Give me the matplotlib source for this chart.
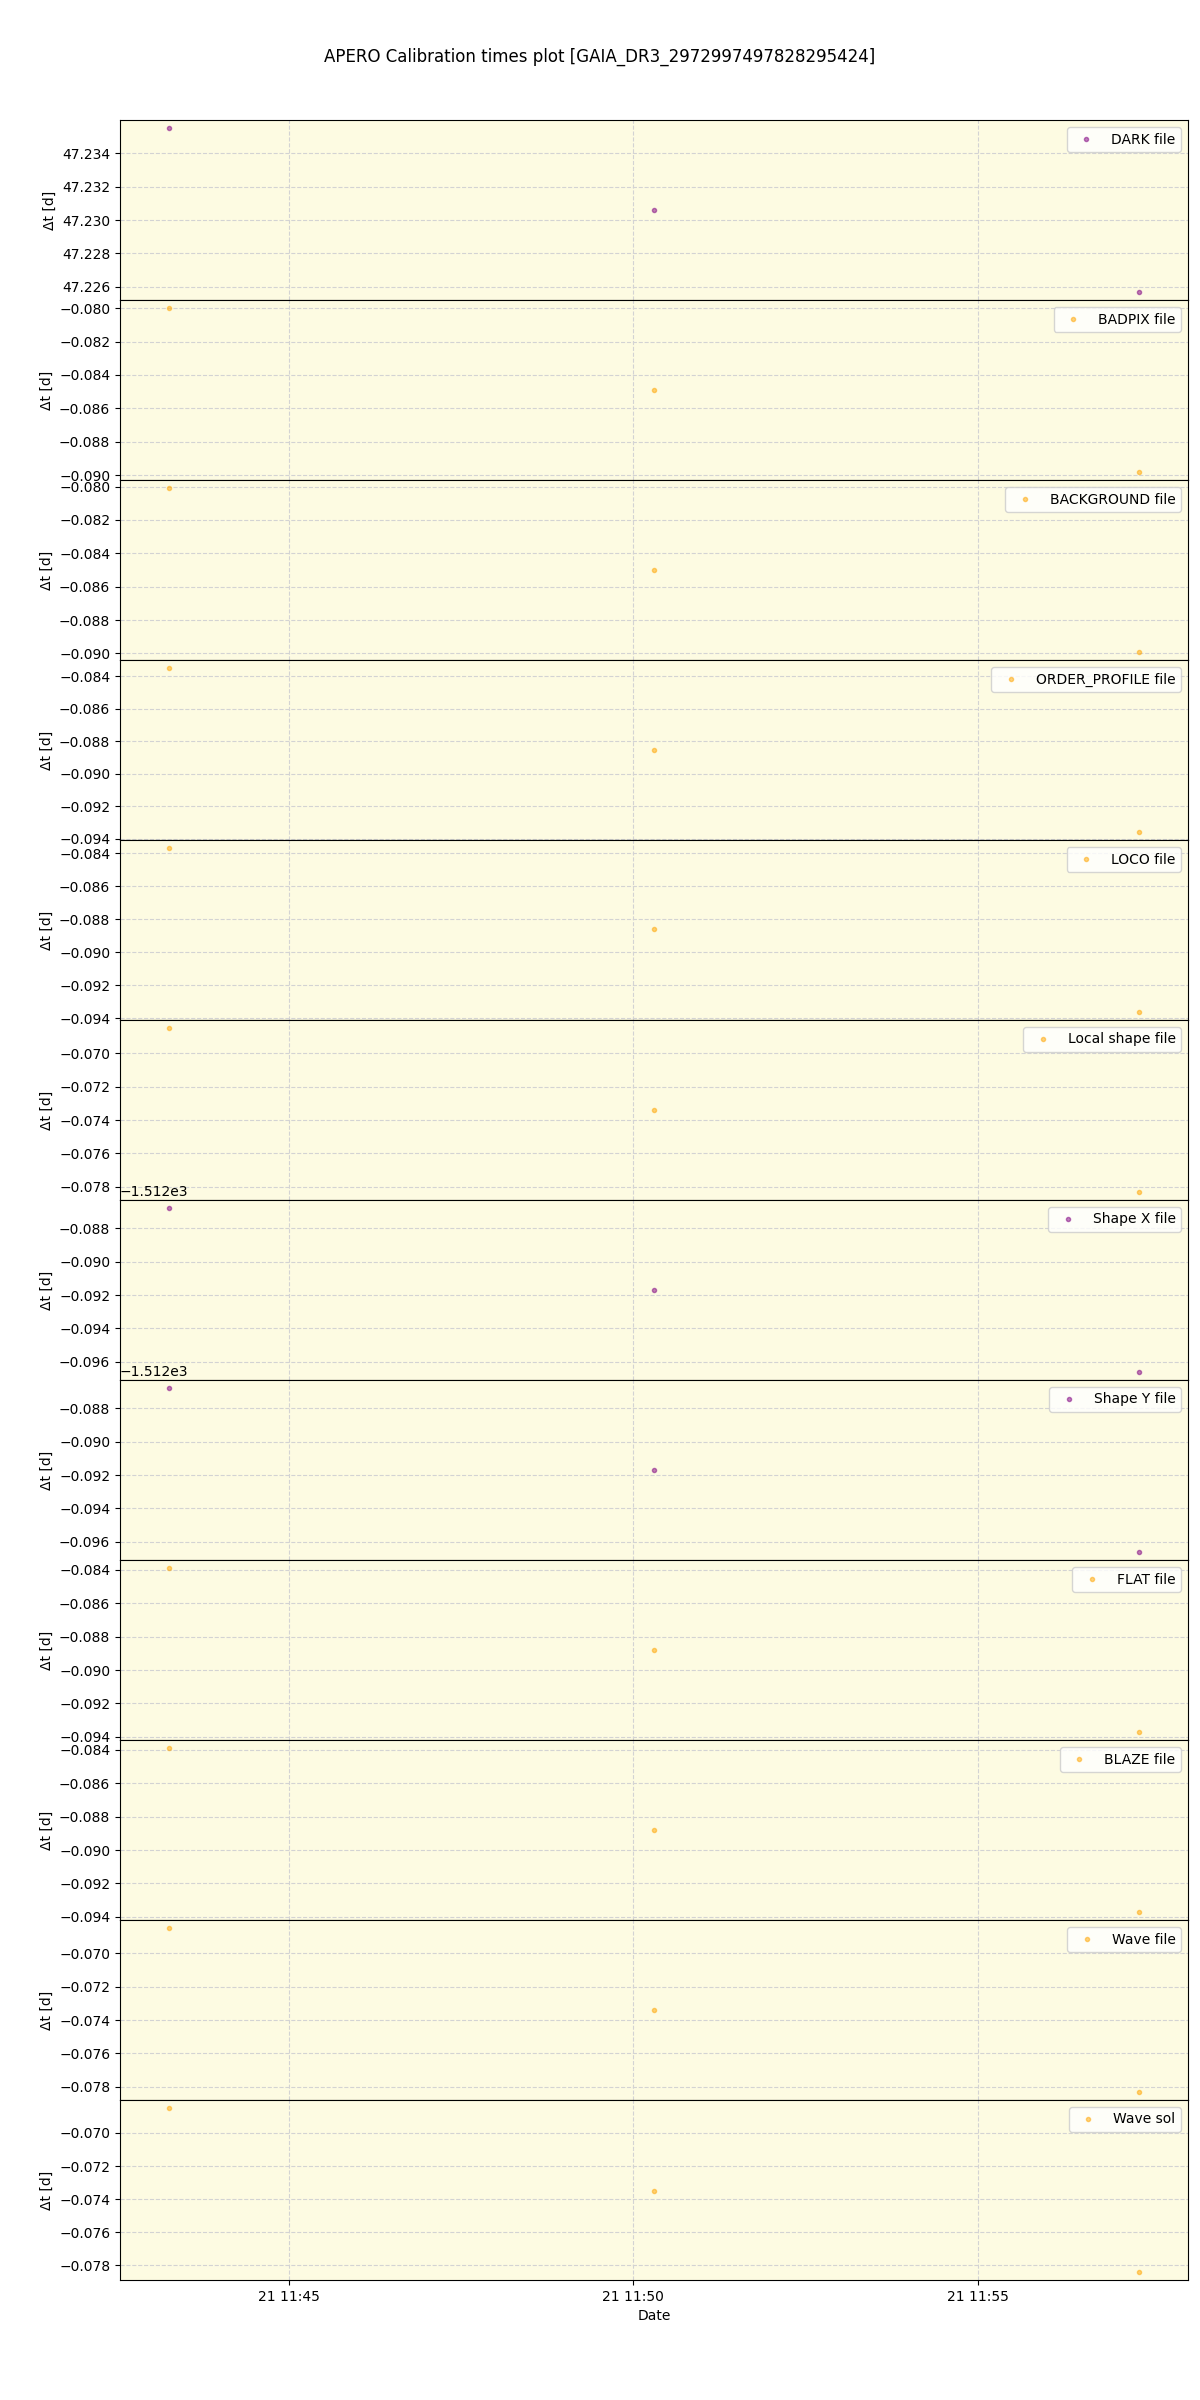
import matplotlib
matplotlib.use("Agg")
import matplotlib.pyplot as plt
from datetime import datetime

title = "APERO Calibration times plot [GAIA_DR3_2972997497828295424]"

obs_times = ["2022-07-21 11:43:15", "2022-07-21 11:50:18", "2022-07-21 11:57:21"]

labels = ["DARK file", "BADPIX file", "BACKGROUND file", "ORDER_PROFILE file",
          "LOCO file", "Local shape file", "Shape X file", "Shape Y file",
          "FLAT file", "BLAZE file", "Wave file", "Wave sol"]

colors = ["purple", "orange", "orange", "orange", "orange", "orange",
          "purple", "purple", "orange", "orange", "orange", "orange"]

dark_dt = [47.2355, 47.2306, 47.2257]
badpix_dt = [-0.0800, -0.0849, -0.0898]
background_dt = [-0.0801, -0.0850, -0.0899]
order_profile_dt = [-0.08352, -0.08852, -0.09356]
loco_dt = [-0.0837, -0.0886, -0.09362]
local_shape_dt = [-0.0685, -0.0734, -0.0783]
shape_x_dt = [-1512.0868, -1512.0917, -1512.0966]
shape_y_dt = [-1512.0868, -1512.0917, -1512.0966]
flat_dt = [-0.0839, -0.0888, -0.0937]
blaze_dt = [-0.0839, -0.0888, -0.0937]
wave_file_dt = [-0.0685, -0.0734, -0.0783]
wave_sol_dt = [-0.0685, -0.0735, -0.0784]

series = [dark_dt, badpix_dt, background_dt, order_profile_dt, loco_dt,
          local_shape_dt, shape_x_dt, shape_y_dt, flat_dt, blaze_dt,
          wave_file_dt, wave_sol_dt]

times = [datetime.strptime(t, "%Y-%m-%d %H:%M:%S") for t in obs_times]

fig, axes = plt.subplots(len(labels), 1, figsize=(12, 24), dpi=100, sharex=True)
fig.subplots_adjust(left=0.1, right=0.99, top=0.95, bottom=0.05, hspace=0)

for ax, lab, col, vals in zip(axes, labels, colors, series):
    ax.set_facecolor("#fdfbe2")
    ax.plot(times, vals, ".", color=col, alpha=0.5, label=lab)
    ax.grid(True, linestyle="--", color="lightgray")
    ax.set_ylabel("Δt [d]")
    ax.legend(loc="upper right")

axes[-1].set_xlabel("Date")
fig.suptitle(title, y=0.98)
fig.savefig("out.png", dpi=100)
